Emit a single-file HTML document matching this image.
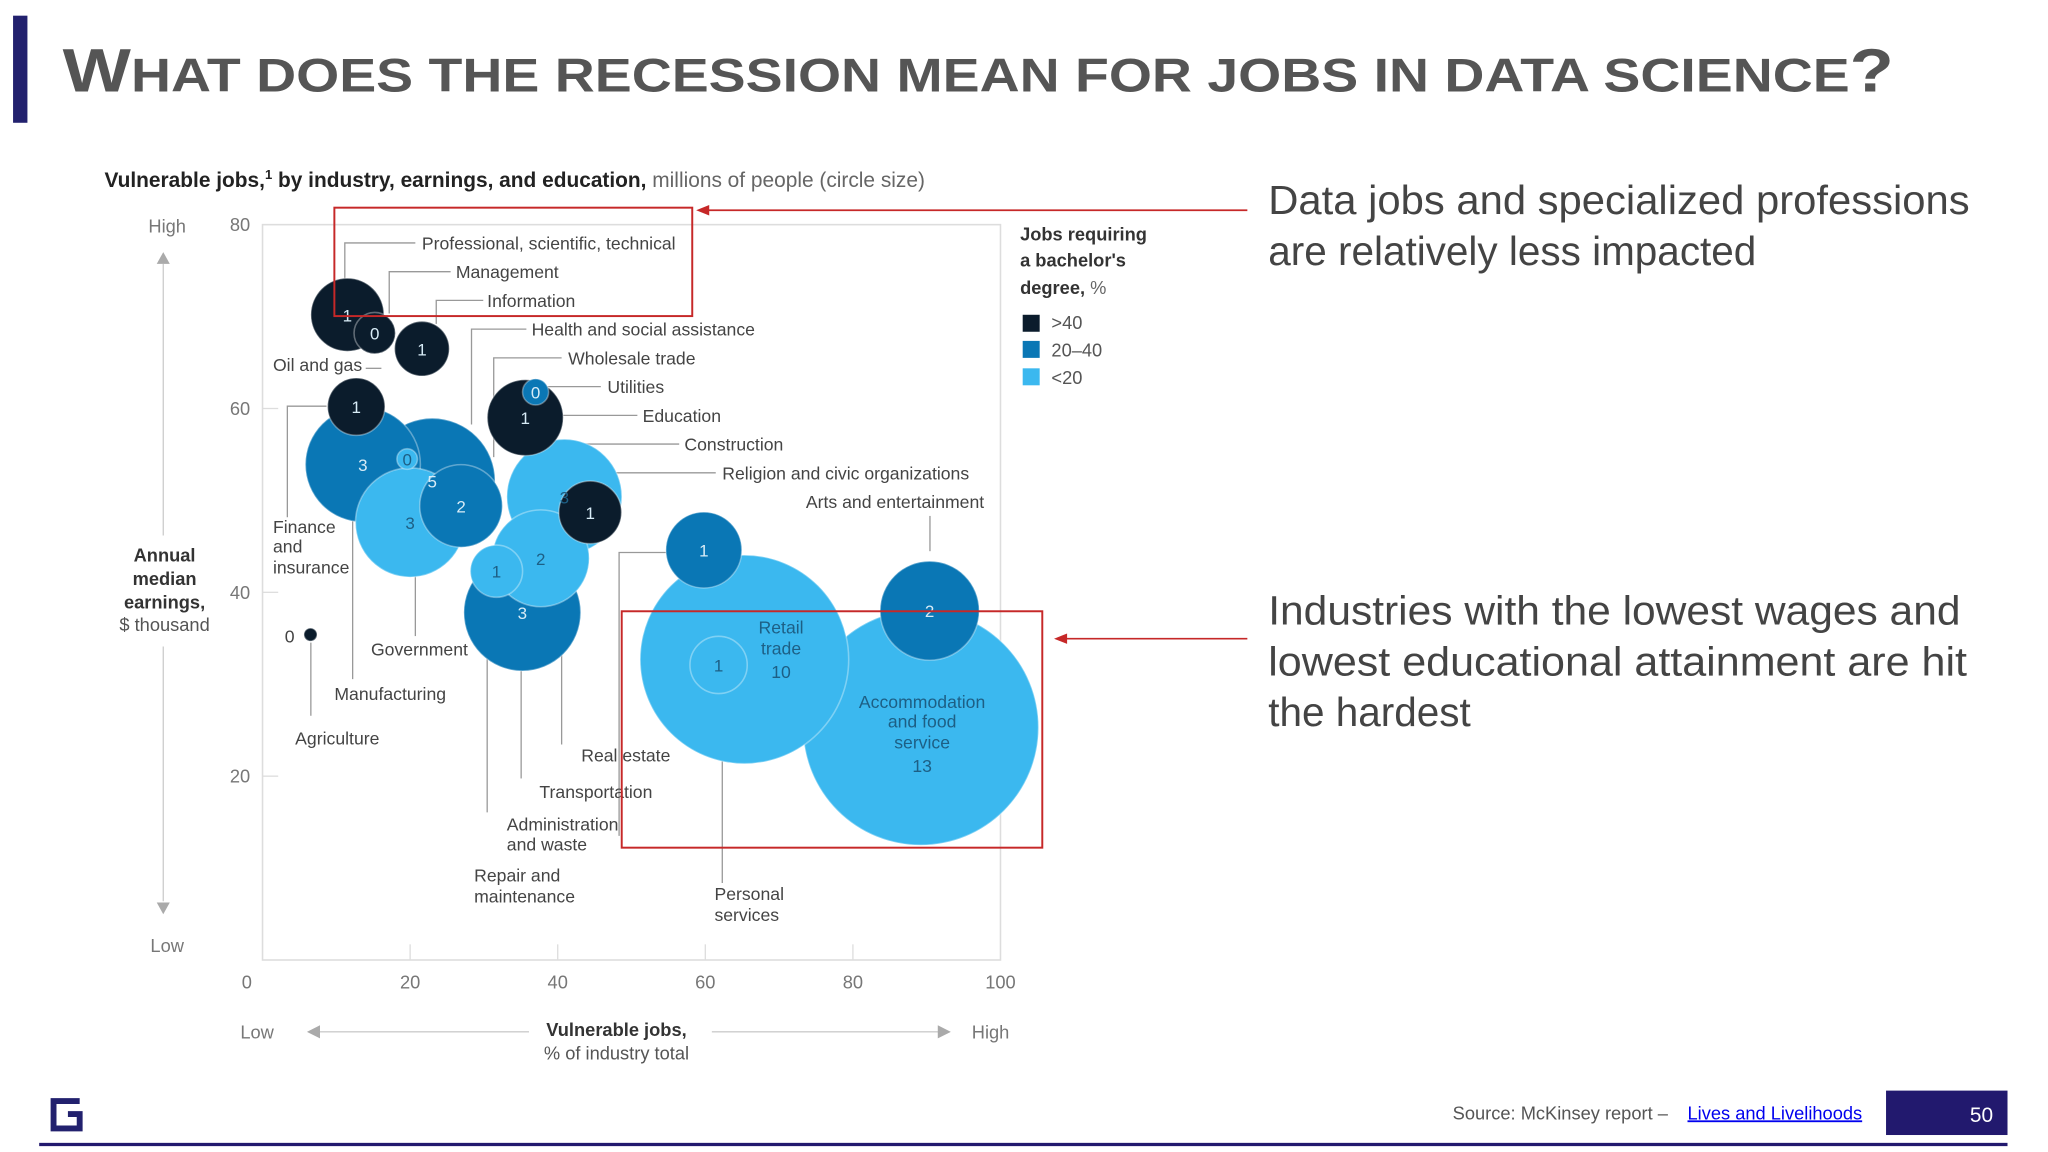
<!DOCTYPE html>
<html><head><meta charset="utf-8"><style>
html,body{margin:0;padding:0;background:#fff;width:2048px;height:1152px;overflow:hidden}
svg{display:block;font-family:"Liberation Sans",sans-serif}
</style></head><body>
<svg id="chart" width="2048" height="1152" viewBox="0 0 1568 882">
<rect x="10" y="12" width="11" height="82" fill="#22216e"/>
<text x="48" y="70" fill="#555" font-weight="bold" font-size="36" textLength="1402" lengthAdjust="spacingAndGlyphs"><tspan font-size="47">W</tspan>HAT DOES THE RECESSION MEAN FOR JOBS IN DATA SCIENCE<tspan font-size="47">?</tspan></text>

<text x="80" y="143" font-size="16" fill="#222"><tspan font-weight="bold">Vulnerable jobs,<tspan font-size="10" dy="-6">1</tspan><tspan dy="6"> by industry, earnings, and education,</tspan></tspan><tspan fill="#666"> millions of people (circle size)</tspan></text>

<g id="grid"></g>
<rect x="201" y="172" width="565" height="563" fill="none" stroke="#ddd" stroke-width="1.2"/>
<g id="yticks" font-size="14" fill="#777"></g>
<g id="xticks" font-size="14" fill="#777" text-anchor="middle"></g>

<g font-size="14" fill="#777">
<text x="128" y="178" text-anchor="middle">High</text>
<text x="128" y="729" text-anchor="middle">Low</text>
<line x1="125" y1="202" x2="125" y2="410" stroke="#ccc"/>
<line x1="125" y1="495" x2="125" y2="690" stroke="#ccc"/>
<polygon points="125,193 120,202 130,202" fill="#aaa"/>
<polygon points="125,700 120,691 130,691" fill="#aaa"/>
<text x="126" y="430" text-anchor="middle" font-weight="bold" fill="#333">Annual</text>
<text x="126" y="448" text-anchor="middle" font-weight="bold" fill="#333">median</text>
<text x="126" y="466" text-anchor="middle" font-weight="bold" fill="#333">earnings,</text>
<text x="126" y="483" text-anchor="middle" fill="#555">$ thousand</text>
</g>
<g font-size="14" fill="#777">
<text x="184" y="795">Low</text>
<text x="744" y="795">High</text>
<line x1="245" y1="790" x2="405" y2="790" stroke="#ccc"/>
<line x1="545" y1="790" x2="720" y2="790" stroke="#ccc"/>
<polygon points="235,790 245,785 245,795" fill="#aaa"/>
<polygon points="728,790 718,785 718,795" fill="#aaa"/>
<text x="472" y="793" text-anchor="middle" font-weight="bold" fill="#333">Vulnerable jobs,</text>
<text x="472" y="811" text-anchor="middle" fill="#555">% of industry total</text>
</g>

<g stroke="#999" stroke-width="1" fill="none">
<polyline points="318,186 264,186 264,215"/>
<polyline points="345,208 298,208 298,240"/>
<polyline points="370,230 334,230 334,248"/>
<polyline points="403,252 361,252 361,325"/>
<polyline points="430,274 378,274 378,350"/>
<polyline points="460,296 418,296"/>
<polyline points="488,318 430,318"/>
<polyline points="520,340 447,340"/>
<polyline points="548,362 470,362 470,378"/>
<polyline points="712,395 712,422"/>
<polyline points="280,282 292,282"/>
<polyline points="250,311 220,311 220,396"/>
<polyline points="318,440 318,487"/>
<polyline points="270,398 270,520"/>
<polyline points="238,492 238,548"/>
<polyline points="430,460 430,570"/>
<polyline points="399,505 399,596"/>
<polyline points="373,455 373,622"/>
<polyline points="510,423 474,423 474,640"/>
<polyline points="553,510 553,676"/>
</g>

<g id="bubbles"></g>
<g id="bubble-labels"></g>

<g font-size="13.5" fill="#1d5f85" text-anchor="middle">
<text x="598" y="485">Retail</text><text x="598" y="501">trade</text><text x="598" y="519">10</text>
<text x="706" y="542">Accommodation</text><text x="706" y="557">and food</text><text x="706" y="573">service</text><text x="706" y="591">13</text>
</g>

<g font-size="13.5" fill="#444">
<text x="323" y="191">Professional, scientific, technical</text>
<text x="349" y="213">Management</text>
<text x="373" y="235">Information</text>
<text x="407" y="257">Health and social assistance</text>
<text x="435" y="279">Wholesale trade</text>
<text x="465" y="301">Utilities</text>
<text x="492" y="323">Education</text>
<text x="524" y="345">Construction</text>
<text x="553" y="367">Religion and civic organizations</text>
<text x="617" y="389">Arts and entertainment</text>
<text x="209" y="284">Oil and gas</text>
<text x="209" y="408">Finance</text><text x="209" y="423">and</text><text x="209" y="439">insurance</text>
<text x="284" y="502">Government</text>
<text x="256" y="536">Manufacturing</text>
<text x="226" y="570">Agriculture</text>
<text x="218" y="492">0</text>
<text x="445" y="583">Real estate</text>
<text x="413" y="611">Transportation</text>
<text x="388" y="636">Administration</text><text x="388" y="651">and waste</text>
<text x="363" y="675">Repair and</text><text x="363" y="691">maintenance</text>
<text x="547" y="689">Personal</text><text x="547" y="705">services</text>
</g>

<g font-size="14" fill="#333">
<text x="781" y="184" font-weight="bold">Jobs requiring</text>
<text x="781" y="204" font-weight="bold">a bachelor's</text>
<text x="781" y="225"><tspan font-weight="bold">degree,</tspan><tspan fill="#666"> %</tspan></text>
<rect x="783" y="241" width="13" height="13" fill="#0b1c2c"/>
<text x="805" y="252" fill="#555">&gt;40</text>
<rect x="783" y="261" width="13" height="13" fill="#0a77b5"/>
<text x="805" y="273" fill="#555">20–40</text>
<rect x="783" y="282" width="13" height="13" fill="#3bb8ef"/>
<text x="805" y="294" fill="#555">&lt;20</text>
</g>

<rect x="256" y="159" width="274" height="83" fill="none" stroke="#c62828" stroke-width="1.5"/>
<rect x="476" y="468" width="322" height="181" fill="none" stroke="#c62828" stroke-width="1.5"/>
<line x1="955" y1="161" x2="542" y2="161" stroke="#c62828" stroke-width="1.3"/>
<polygon points="533,161 543,157 543,165" fill="#c62828"/>
<line x1="955" y1="489" x2="816" y2="489" stroke="#c62828" stroke-width="1.3"/>
<polygon points="807,489 817,485 817,493" fill="#c62828"/>

<g font-size="31" fill="#444">
<text x="971" y="164" textLength="537" lengthAdjust="spacingAndGlyphs">Data jobs and specialized professions</text>
<text x="971" y="203">are relatively less impacted</text>
<text x="971" y="478" textLength="530" lengthAdjust="spacingAndGlyphs">Industries with the lowest wages and</text>
<text x="971" y="517" textLength="535" lengthAdjust="spacingAndGlyphs">lowest educational attainment are hit</text>
<text x="971" y="556">the hardest</text>
</g>

<path d="M61,843 H41 V864 H61 V853 H52" fill="none" stroke="#22216e" stroke-width="4.5"/>
<text x="1277" y="857" font-size="14" fill="#555" text-anchor="end">Source: McKinsey report –</text>
<text x="1292" y="857" font-size="14" fill="#0000ee" text-decoration="underline">Lives and Livelihoods</text>
<rect x="1444" y="835" width="93" height="34" fill="#22196e"/>
<text x="1526" y="859" font-size="16" fill="#fff" text-anchor="end">50</text>
<rect x="30" y="875" width="1507" height="2.5" fill="#22196e"/>
</svg>
<script>
const industries=["Professional","Management","Information","Oil and gas","Finance","Small light","Health","Government","Wholesale","Utilities","Education","Construction","Religion","Real estate","Transportation","Administration","Agriculture","Arts","Retail","Personal services","Accommodation","Arts2"];
const vulnerablePct=[11.5,15.2,21.6,12.7,13.6,19.6,23.0,20.0,26.9,37.0,35.6,40.9,44.4,37.7,35.2,31.7,6.5,59.8,65.3,61.8,89.2,90.4];
const earnings=[70.2,68.2,66.5,60.2,53.9,54.5,52.1,47.6,49.4,61.8,59.0,50.4,48.7,43.7,37.8,42.3,35.4,44.6,32.7,32.1,25.3,38.0];
const jobsMillions=[1.25,0.4,0.7,0.77,3.1,0.1,3.7,2.8,1.6,0.16,1.35,3.1,0.92,2.2,3.2,0.64,0.04,1.35,10.2,0.77,13,2.3];
const sizeLabels=["1","0","1","1","3","0","5","3","2","0","1","3","1","2","3","1","","1","","1","","2"];
const degreeGroup=[0,0,0,0,1,2,1,2,1,1,0,2,0,2,1,2,0,1,2,2,2,1];
const yTicks=[0,20,40,60,80];
const xTicks=[0,20,40,60,80,100];
const colors=["#0b1c2c","#0a77b5","#3bb8ef"];
const NS="http://www.w3.org/2000/svg";
const X0=201,X1=766,Y0=735,Y1=172;
const xs=v=>X0+(X1-X0)*v/100;
const ys=v=>Y0-(Y0-Y1)*v/80;
const rs=m=>25*Math.sqrt(m);
function mk(t,a,p){const e=document.createElementNS(NS,t);for(const k in a)e.setAttribute(k,a[k]);p.appendChild(e);return e;}
const grid=document.getElementById('grid'),yt=document.getElementById('yticks'),xt=document.getElementById('xticks');
yTicks.forEach(v=>{
  if(v>0&&v<80){const l=mk('line',{x1:X0,x2:X0+12,y1:ys(v),y2:ys(v),stroke:'#ddd'},grid);
  
  }
  const t=mk('text',{x:176,y:ys(v)+5},yt);t.textContent=v===0?'':v;
  
  
});
xTicks.forEach(v=>{
  if(v>0&&v<100){const l=mk('line',{x1:xs(v),x2:xs(v),y1:Y0,y2:Y0-12,stroke:'#ddd'},grid);
  
  }
  const t=mk('text',{x:v===0?189:xs(v),y:757},xt);t.textContent=v;
  
  
});
const g=document.getElementById('bubbles'),gl=document.getElementById('bubble-labels');
const order=industries.map((_,i)=>i).sort((a,b)=>jobsMillions[b]-jobsMillions[a]);
order.forEach(i=>{
  const c=mk('circle',{cx:xs(vulnerablePct[i]),cy:ys(earnings[i]),r:rs(jobsMillions[i]),fill:colors[degreeGroup[i]],stroke:'rgba(255,255,255,0.35)','stroke-width':1.2},g);
  
  
});
industries.forEach((_,i)=>{
  if(sizeLabels[i]!==''){
    const t=mk('text',{x:xs(vulnerablePct[i]),y:ys(earnings[i])+5,'text-anchor':'middle','font-size':13,fill:degreeGroup[i]===2?'#1d5f85':'#d8ecf7'},gl);
    t.textContent=sizeLabels[i];
    
    
  }
});
</script>
</body></html>
